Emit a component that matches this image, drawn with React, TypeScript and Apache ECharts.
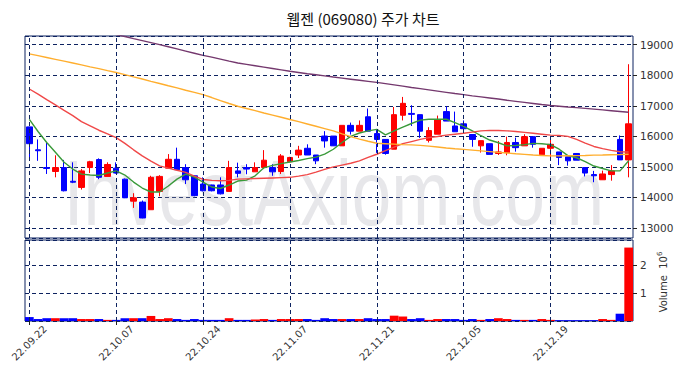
import React, { useEffect, useRef } from "react";
import * as echarts from "echarts";

const dates = [
  "22.09.22", "22.09.23", "22.09.26", "22.09.27", "22.09.28", "22.09.29", "22.09.30", "22.10.04", "22.10.05", "22.10.06",
  "22.10.07", "22.10.11", "22.10.12", "22.10.13", "22.10.14", "22.10.17", "22.10.18", "22.10.19", "22.10.20", "22.10.21",
  "22.10.24", "22.10.25", "22.10.26", "22.10.27", "22.10.28", "22.10.31", "22.11.01", "22.11.02", "22.11.03", "22.11.04",
  "22.11.07", "22.11.08", "22.11.09", "22.11.10", "22.11.11", "22.11.14", "22.11.15", "22.11.16", "22.11.17", "22.11.18",
  "22.11.21", "22.11.22", "22.11.23", "22.11.24", "22.11.25", "22.11.28", "22.11.29", "22.11.30", "22.12.01", "22.12.02",
  "22.12.05", "22.12.06", "22.12.07", "22.12.08", "22.12.09", "22.12.12", "22.12.13", "22.12.14", "22.12.15", "22.12.16",
  "22.12.19", "22.12.20", "22.12.21", "22.12.22", "22.12.23", "22.12.26", "22.12.27", "22.12.28", "22.12.29", "23.01.02",
];

// dates that carry a vertical grid line (every 10th session)
const gridDates = ["22.09.22", "22.10.07", "22.10.24", "22.11.07", "22.11.21", "22.12.05", "22.12.19"];

const opens = [
  16310, 15560, 14980, 14850, 14980, 14530, 14330, 14980, 15240, 14690,
  14960, 14600, 13880, 13850, 13600, 14200, 14960, 15250, 14980, 14710,
  14440, 14410, 14410, 14200, 14870, 14980, 14840, 14980, 14980, 14850,
  15170, 15390, 15610, 15390, 16010, 16010, 15690, 16360, 16170, 16640,
  16090, 15900, 15580, 16690, 16750, 16710, 15870, 16070, 16810, 16340,
  16410, 16060, 15690, 15760, 15440, 15470, 15800, 15690, 15990, 15400,
  15610, 15490, 15330, 15440, 14980, 14750, 14580, 14750, 15900, 15230,
];
const closes = [
  15760, 15530, 14950, 14980, 14220, 14500, 14870, 15170, 14660, 15080,
  14800, 13990, 13990, 13330, 14660, 14690, 15250, 14910, 14580, 14060,
  14220, 14220, 14120, 14980, 14790, 14930, 14980, 15220, 14840, 15360,
  15310, 15550, 15390, 15200, 15850, 15690, 16360, 16170, 16360, 16170,
  15900, 15440, 16710, 17080, 16720, 16170, 16190, 16550, 16500, 16150,
  16250, 15900, 15860, 15410, 15490, 15800, 15630, 15990, 15740, 15610,
  15740, 15310, 15200, 15220, 14800, 14710, 14770, 14870, 15230, 16410,
];
const lows = [
  15200, 15200, 14770, 14660, 14200, 14470, 14260, 14800, 14600, 14690,
  14780, 13980, 13660, 13320, 13600, 14040, 14960, 14900, 14440, 14040,
  14200, 14200, 14100, 14200, 14660, 14760, 14840, 14930, 14710, 14770,
  15150, 15290, 15390, 15090, 15630, 15690, 15690, 16060, 16170, 16170,
  15460, 15400, 15580, 16520, 16340, 15950, 15800, 16070, 16500, 16150,
  16250, 15660, 15470, 15410, 15390, 15380, 15500, 15690, 15630, 15400,
  15310, 15060, 15040, 15220, 14690, 14500, 14580, 14550, 15230, 14660,
];
const highs = [
  16310, 15900, 15800, 15380, 15230, 15150, 14930, 15200, 15280, 15150,
  15150, 14620, 14140, 13900, 14710, 14730, 15420, 15630, 15090, 14720,
  14660, 14420, 14660, 15200, 15140, 15090, 15150, 15550, 15090, 15420,
  15330, 15690, 15740, 15390, 16170, 16010, 16360, 16450, 16520, 16910,
  16230, 15900, 16960, 17290, 17020, 16710, 16300, 16680, 16980, 16810,
  16520, 16060, 15860, 15760, 15850, 15990, 15960, 16070, 15990, 15610,
  15880, 15490, 15330, 15440, 14980, 14870, 14880, 15060, 16030, 18360,
];

const volumes = [
  140000, 70000, 100000, 100000, 100000, 100000, 70000, 70000, 70000, 40000,
  40000, 100000, 100000, 100000, 180000, 70000, 100000, 70000, 40000, 70000,
  40000, 40000, 40000, 100000, 40000, 40000, 50000, 70000, 40000, 70000,
  70000, 70000, 70000, 40000, 100000, 70000, 70000, 70000, 70000, 100000,
  70000, 70000, 190000, 160000, 70000, 100000, 40000, 70000, 70000, 70000,
  40000, 70000, 40000, 70000, 100000, 70000, 40000, 40000, 40000, 70000,
  40000, 30000, 30000, 30000, 30000, 30000, 70000, 40000, 260000, 2620000,
];

const ma5 = [
  16553, 16160, 15800, 15480, 15155, 14930, 14765, 14735, 14720, 14800,
  14873, 14735, 14505, 14310, 14180, 14180, 14375, 14600, 14765, 14668,
  14505, 14343, 14294, 14408, 14538, 14570, 14710, 14970, 15050, 15110,
  15160, 15210, 15270, 15320, 15420, 15578, 15800, 16000, 16110, 16180,
  16228, 16050, 16180, 16300, 16420, 16530, 16560, 16560, 16560, 16450,
  16330, 16180, 16020, 15880, 15790, 15690, 15700, 15730, 15770, 15760,
  15730, 15580, 15370, 15300, 15170, 15030, 14950, 14870, 14870, 15200,
];
const ma20 = [
  17550, 17380, 17200, 17030, 16850, 16680, 16480, 16340, 16200, 16080,
  15958, 15770, 15560, 15360, 15190, 15035, 14960, 14890, 14820, 14700,
  14590, 14560, 14550, 14560, 14600, 14610, 14620, 14630, 14640, 14650,
  14660, 14700, 14750, 14830, 14920, 15000, 15060, 15120, 15200, 15310,
  15415, 15530, 15650, 15760, 15830, 15900, 15960, 15995, 16040, 16070,
  16100, 16140, 16180, 16195, 16190, 16180, 16160, 16130, 16100, 16070,
  16040, 16030, 16000, 15900, 15780, 15670, 15600, 15540, 15495, 15490,
];
const ma60 = [
  18700, 18640, 18580, 18520, 18460, 18400, 18340, 18275, 18215, 18150,
  18090, 18020, 17945, 17875, 17800, 17730, 17655, 17585, 17510, 17440,
  17365, 17270, 17170, 17075, 16985, 16910, 16840, 16765, 16695, 16625,
  16553, 16480, 16405, 16330, 16255, 16180, 16080, 15990, 15910, 15840,
  15775, 15760, 15745, 15730, 15720, 15705, 15680, 15650, 15620, 15595,
  15575, 15550, 15525, 15500, 15475, 15455, 15430, 15410, 15390, 15375,
  15360, 15360, 15365, 15370, 15375, 15385, 15390, 15400, 15405, 15415,
];
const ma120 = [
  20000, 19930, 19860, 19790, 19720, 19650, 19585, 19520, 19455, 19390,
  19330, 19265, 19195, 19130, 19065, 19000, 18930, 18860, 18790, 18720,
  18650, 18590, 18525, 18460, 18400, 18355, 18310, 18265, 18220, 18175,
  18130, 18090, 18050, 18015, 17980, 17940, 17905, 17870, 17835, 17800,
  17765, 17725, 17685, 17645, 17600, 17560, 17520, 17480, 17440, 17400,
  17365, 17325, 17290, 17255, 17220, 17180, 17145, 17110, 17075, 17040,
  17010, 16985, 16960, 16940, 16915, 16890, 16865, 16840, 16815, 16790,
];

const TITLE = "웹젠 (069080) 주가 차트";
const NAVY = "#0d2260";
const UP = "#ff0000";
const DOWN = "#0000ff";

export default function App() {
  const ref = useRef<HTMLDivElement>(null);
  useEffect(() => {
    if (!ref.current) return;
    const chart = echarts.init(ref.current, undefined, { renderer: "svg" });
    const candleData = opens.map((o, i) => [o, closes[i], lows[i], highs[i]]);
    const volData = volumes.map((v, i) => ({
      value: v,
      itemStyle: { color: closes[i] >= opens[i] ? UP : DOWN },
    }));
    const makeVLines = () => ({
      silent: true,
      symbol: ["none", "none"],
      label: { show: false },
      lineStyle: { color: NAVY, type: [4, 3], width: 1 },
      emphasis: { disabled: true },
      data: gridDates.map((d) => ({ xAxis: d })),
    });
    const font = "DejaVu Sans";
    const option: any = {
      animation: false,
      backgroundColor: "#ffffff",
      graphic: [
        {
          type: "text",
          x: 363,
          y: 18,
          style: {
            text: TITLE,
            fontFamily: "Noto Sans CJK KR",
            fontSize: 15,
            fill: "#111",
            textAlign: "center",
            textVerticalAlign: "middle",
          },
        },
        {
          type: "text",
          x: 334,
          y: 192,
          scaleY: 1.3,
          z: 1,
          silent: true,
          style: {
            text: "InvestAxiom.com",
            fontFamily: "Liberation Sans",
            fontSize: 71,
            fill: "rgba(170,170,180,0.28)",
            textAlign: "center",
            textVerticalAlign: "middle",
          },
        },
        {
          type: "text",
          x: 663,
          y: 282,
          rotation: Math.PI / 2,
          style: {
            text: "Volume  10{sup|6}",
            fontFamily: font,
            fontSize: 10,
            fill: "#333",
            textAlign: "center",
            textVerticalAlign: "middle",
            rich: {
              sup: { fontSize: 7, fontFamily: font, fill: "#333", verticalAlign: "top", padding: [0, 0, 6, 0] },
            },
          },
        },
      ],
      grid: [
        { left: 25, right: 50, top: 36, height: 202, show: true, borderColor: NAVY, borderWidth: 1, backgroundColor: "transparent" },
        { left: 25, right: 50, top: 240, height: 81, show: true, borderColor: NAVY, borderWidth: 1, backgroundColor: "transparent" },
      ],
      xAxis: [
        {
          type: "category",
          gridIndex: 0,
          data: dates,
          boundaryGap: true,
          axisLine: { show: false },
          axisTick: { show: false },
          axisLabel: { show: false },
          splitLine: { show: false },
        },
        {
          type: "category",
          gridIndex: 1,
          data: dates,
          boundaryGap: true,
          axisLine: { show: false },
          axisTick: { show: true, interval: 9, alignWithLabel: true, length: 4, lineStyle: { color: "#222" } },
          axisLabel: {
            interval: 9,
            rotate: 45,
            align: "center",
            verticalAlign: "middle",
            fontSize: 10,
            color: "#333",
            margin: 22,
            fontFamily: font,
          },
          splitLine: { show: false },
        },
      ],
      yAxis: [
        {
          type: "value",
          gridIndex: 0,
          position: "right",
          min: 12675,
          max: 19283,
          minInterval: 1000,
          maxInterval: 1000,
          axisLine: { show: false },
          axisTick: { show: true, length: 4, lineStyle: { color: "#222" } },
          axisLabel: {
            showMinLabel: false,
            showMaxLabel: false,
            fontSize: 10.5,
            color: "#333",
            margin: 7,
            fontFamily: font,
            formatter: (v: number) => String(Math.round(v)),
          },
          splitLine: { show: true, lineStyle: { color: NAVY, type: [4, 3], width: 1 } },
        },
        {
          type: "value",
          gridIndex: 1,
          position: "right",
          min: 0,
          max: 2890000,
          minInterval: 1000000,
          maxInterval: 1000000,
          axisLine: { show: false },
          axisTick: { show: true, length: 4, lineStyle: { color: "#222" } },
          axisLabel: {
            showMinLabel: false,
            showMaxLabel: false,
            fontSize: 10.5,
            color: "#333",
            margin: 7,
            fontFamily: font,
            formatter: (v: number) => String(Math.round(v / 1000000)),
          },
          splitLine: { show: true, lineStyle: { color: NAVY, type: [4, 3], width: 1 } },
        },
      ],
      series: [
        {
          type: "candlestick",
          xAxisIndex: 0,
          yAxisIndex: 0,
          data: candleData,
          barWidth: 6,
          z: 3,
          itemStyle: { color: UP, color0: DOWN, borderColor: UP, borderColor0: DOWN, borderWidth: 1 },
          markLine: makeVLines(),
        },
        { type: "line", xAxisIndex: 0, yAxisIndex: 0, data: ma5, showSymbol: false, z: 4, lineStyle: { color: "#3a9a3a", width: 1.4 } },
        { type: "line", xAxisIndex: 0, yAxisIndex: 0, data: ma20, showSymbol: false, z: 4, lineStyle: { color: "#f04848", width: 1.4 } },
        { type: "line", xAxisIndex: 0, yAxisIndex: 0, data: ma60, showSymbol: false, z: 4, lineStyle: { color: "#ffae2e", width: 1.4 } },
        { type: "line", xAxisIndex: 0, yAxisIndex: 0, data: ma120, showSymbol: false, z: 4, lineStyle: { color: "#74386e", width: 1.4 } },
        {
          type: "bar",
          xAxisIndex: 1,
          yAxisIndex: 1,
          data: volData,
          barWidth: "100%",
          z: 3,
          markLine: makeVLines(),
        },
      ],
    };
    chart.setOption(option);
    return () => chart.dispose();
  }, []);
  return <div ref={ref} style={{ width: 683, height: 378, position: "absolute", left: 0, top: 0 }} />;
}
